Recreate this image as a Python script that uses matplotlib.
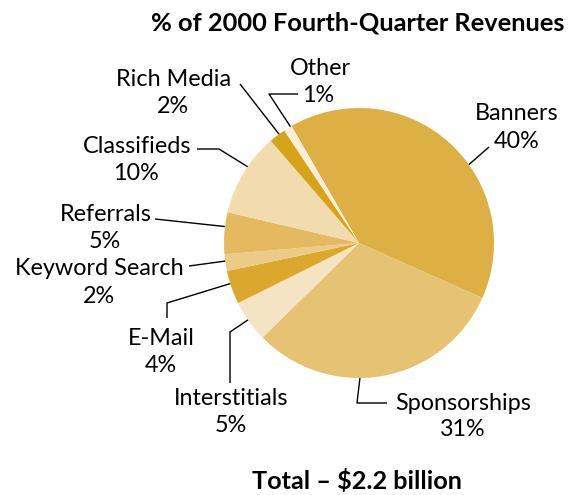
import numpy as np
import matplotlib
matplotlib.use("Agg")
import matplotlib.pyplot as plt

# revenue shares, clockwise from the top
segments = ["Banners", "Sponsorships", "Interstitials", "E-Mail", "Keyword Search",
            "Referrals", "Classifieds", "Rich Media", "Other"]
shares = [40, 31, 5, 4, 2, 5, 10, 2, 1]
colors = ["#DDB045", "#E6C273", "#F5E4C3", "#DBA82D", "#EBCB87",
          "#E4B960", "#F2DBAE", "#D7A319", "#FAEEDA"]

W, H = 575, 495
cx, cy, R = 359, 243, 135

# label layout in pixel coords (y down): name center, pct center, leader points, edge angle
layout = {
    "Banners":        ((517, 112), (517, 140), [(489, 147)], 35.5),
    "Sponsorships":   ((463, 402), (463, 428), [(387, 403), (357, 403)], 270.4),
    "Interstitials":  ((231, 397), (231, 424), [(230, 383), (230, 332)], 214.7),
    "E-Mail":         ((161, 337), (161, 364), [(167, 318), (167, 303)], 197.5),
    "Keyword Search": ((99, 267), (99, 295), [(189, 266)], 187.7),
    "Referrals":      ((106, 213), (105, 240), [(155, 219)], 173.0),
    "Classifieds":    ((137, 145), (136, 172), [(197, 149), (219, 149)], 145.6),
    "Rich Media":     ((174, 78), (173, 105), [(240, 84)], 126.3),
    "Other":          ((320, 67), (318, 94), [(298, 94), (269, 94)], 120.5),
}

plt.rcParams['font.family'] = ['Lato', 'DejaVu Sans']

fig = plt.figure(figsize=(W / 100, H / 100), dpi=100)
ax = fig.add_axes([0, 0, 1, 1])
ax.pie(shares, colors=colors, startangle=120, counterclock=False,
       center=(cx, H - cy), radius=R, frame=True,
       wedgeprops=dict(linewidth=0))
ax.set_xlim(0, W)
ax.set_ylim(0, H)
ax.set_aspect('equal')
ax.axis('off')

for name, pct in zip(segments, shares):
    (nx, ny), (px, py), pts, ang = layout[name]
    ex = cx + R * np.cos(np.radians(ang))
    ey = cy - R * np.sin(np.radians(ang))
    xs = [p[0] for p in pts] + [ex]
    ys = [H - p[1] for p in pts] + [H - ey]
    ax.plot(xs, ys, color="black", lw=1.0, solid_capstyle='butt')
    ax.text(nx, H - ny - 8, name, ha='center', va='baseline', fontsize=16.8)
    ax.text(px, H - py - 8, f"{pct}%", ha='center', va='baseline', fontsize=16.8)

ax.text(358, H - 30, "% of 2000 Fourth-Quarter Revenues", ha='center', va='baseline',
        fontsize=18.3, fontweight='bold')
ax.text(357, H - 489, "Total \u2013 $2.2 billion", ha='center', va='baseline',
        fontsize=18.2, fontweight='bold')

fig.savefig("out.png", dpi=100)
